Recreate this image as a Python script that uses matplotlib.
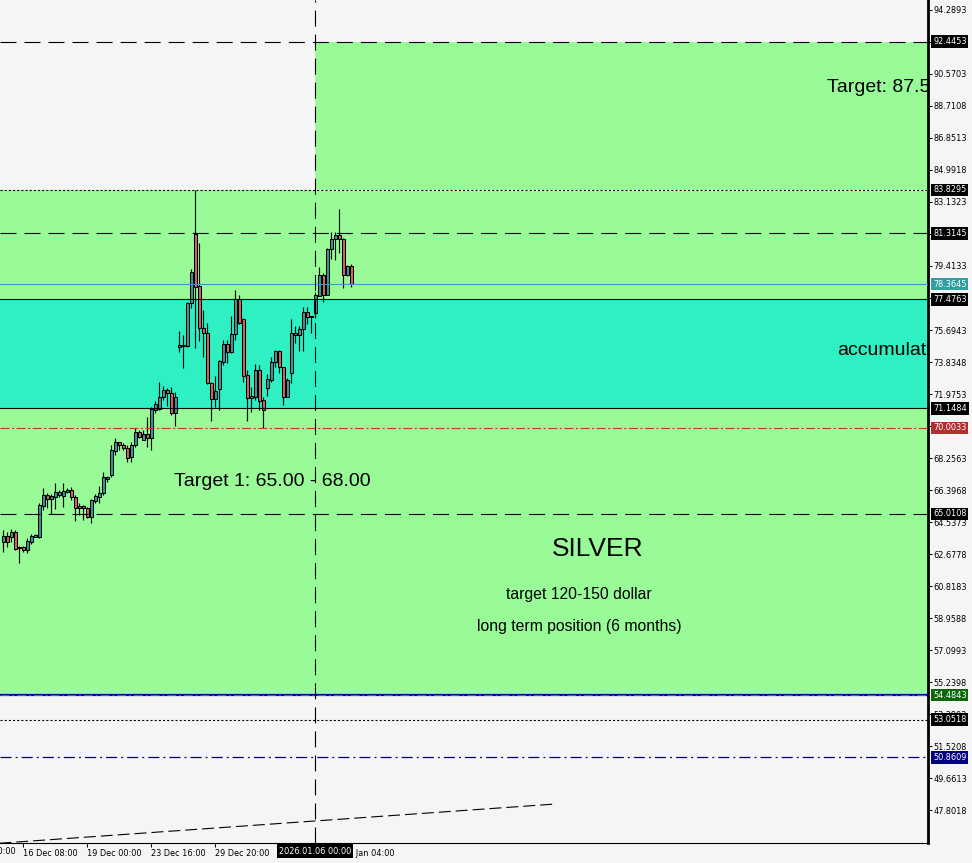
import matplotlib
matplotlib.use("Agg")
import matplotlib.pyplot as plt
from matplotlib.patches import Rectangle

# H4 candles, silver
opens = [63.38, 63.73, 63.67, 63.96, 63.01, 63.10, 62.91, 63.35, 63.69, 63.65,
         65.47, 66.09, 65.86, 66.01, 66.11, 66.05, 66.30, 66.40, 66.01, 65.33,
         65.47, 65.33, 64.81, 65.78, 66.01, 66.21, 67.04, 67.27, 68.68, 69.17,
         69.01, 68.82, 68.30, 69.01, 69.75, 69.33, 69.65, 69.40, 71.05, 71.09,
         71.78, 72.21, 72.02, 70.85, 74.69, 74.82, 74.78, 77.25, 81.27, 78.25,
         75.79, 75.50, 72.60, 71.67, 72.28, 73.85, 74.88, 74.43, 75.45, 77.50,
         76.33, 73.08, 71.73, 71.82, 73.37, 71.63, 72.30, 72.80, 73.85, 74.48,
         73.53, 71.82, 73.21, 75.50, 75.42, 75.74, 76.72, 76.49, 76.67, 77.69,
         78.89, 77.73, 80.38, 80.98, 81.21, 80.98, 78.89, 79.41]
highs = [64.07, 63.96, 64.13, 64.07, 63.16, 63.15, 63.61, 63.84, 63.84, 65.66,
         66.50, 66.21, 66.17, 66.82, 66.40, 66.79, 66.50, 66.59, 66.11, 65.62,
         65.53, 65.43, 65.87, 66.15, 66.63, 67.47, 67.21, 69.01, 69.44, 69.20,
         69.11, 69.01, 69.20, 69.98, 69.89, 69.89, 70.66, 71.23, 71.59, 72.69,
         72.46, 72.31, 72.40, 72.09, 75.64, 75.40, 77.34, 79.22, 83.83, 80.73,
         76.86, 76.10, 72.69, 73.02, 73.95, 75.11, 75.11, 76.51, 78.02, 77.73,
         76.41, 73.37, 72.37, 73.72, 73.66, 71.78, 73.14, 74.11, 74.53, 74.53,
         73.56, 72.88, 76.33, 75.93, 75.93, 77.01, 77.01, 76.53, 77.90, 79.34,
         79.02, 80.48, 81.37, 81.37, 82.73, 81.02, 79.47, 79.53]
lows = [62.80, 63.09, 63.38, 62.91, 62.16, 62.80, 62.76, 63.26, 63.65, 63.61,
        65.24, 65.33, 65.00, 65.28, 66.01, 65.43, 66.21, 65.82, 64.61, 64.94,
        64.65, 64.75, 64.46, 65.62, 65.62, 66.11, 66.88, 67.17, 68.43, 68.72,
        68.72, 68.04, 68.04, 68.91, 69.40, 69.29, 68.91, 68.72, 70.85, 71.05,
        71.63, 71.28, 70.76, 70.12, 74.43, 73.50, 74.72, 76.96, 74.63, 75.07,
        74.14, 72.56, 70.43, 71.24, 71.05, 73.66, 73.76, 74.34, 75.14, 76.05,
        72.69, 70.43, 70.95, 71.63, 71.05, 70.02, 71.86, 72.69, 73.56, 73.18,
        71.34, 71.78, 72.60, 74.92, 74.49, 74.49, 76.04, 75.54, 76.40, 77.69,
        77.34, 77.73, 79.80, 79.76, 80.15, 78.15, 78.83, 78.21]
closes = [63.73, 63.38, 63.96, 62.97, 63.10, 62.91, 63.45, 63.74, 63.80, 65.53,
          66.09, 65.86, 66.05, 66.26, 66.26, 66.36, 66.40, 66.01, 65.33, 65.47,
          65.33, 64.81, 65.82, 66.05, 66.21, 67.14, 67.14, 68.72, 69.17, 69.01,
          68.86, 68.24, 69.01, 69.75, 69.49, 69.65, 69.44, 71.10, 71.40, 71.78,
          72.21, 72.02, 70.85, 71.78, 74.82, 74.79, 77.25, 79.07, 78.21, 75.79,
          75.50, 72.60, 71.67, 72.15, 73.88, 74.88, 74.43, 75.46, 77.50, 76.12,
          73.04, 71.73, 71.86, 73.37, 71.59, 71.05, 72.83, 73.85, 74.48, 73.53,
          71.82, 72.79, 75.50, 75.42, 75.75, 76.72, 76.47, 76.47, 77.73, 78.89,
          77.73, 80.40, 80.98, 81.21, 80.96, 78.89, 79.41, 78.36]

time_idx = [-11, 5, 21, 37, 53, 69, 85]
time_labels = ["11 Dec 20:00", "16 Dec 08:00", "19 Dec 00:00", "23 Dec 16:00",
               "29 Dec 20:00", "02 Jan 12:00", "07 Jan 04:00"]
vline_idx = 78
vline_label = "2026.01.06 00:00"

price_ticks = [47.8018, 49.6613, 51.5208, 53.3803, 55.2398, 57.0993, 58.9588,
               60.8183, 62.6778, 64.5373, 66.3968, 68.2563, 70.1158, 71.9753,
               73.8348, 75.6943, 77.5538, 79.4133, 81.2728, 83.1323, 84.9918,
               86.8513, 88.7108, 90.5703, 92.4298, 94.2893]

green_zone = (54.4843, 83.8295)
target_zone = (83.8295, 92.4453)
accum_zone = (71.1484, 77.4763)
bid = 78.3645
trend_x = [-1, 138]
trend_y = [45.87, 48.15]

plt.rcParams['lines.scale_dashes'] = False
BG = '#f5f5f5'
GREEN = '#98fb98'
AQUA = '#2ff0c2'
BULL = '#2e9e9b'
BEAR = '#d9605a'
LONG = (0, (11.5, 5.8))

fig = plt.figure(figsize=(9.72, 8.63), dpi=100, facecolor=BG)
ax = fig.add_axes([0, 20 / 863, 928 / 972, 843 / 863])
ax.set_facecolor(BG)
x0, x1 = -0.83, 231.2
ax.set_xlim(x0, x1)
ax.set_ylim(45.885, 94.870)

# zones
ax.add_patch(Rectangle((x0, green_zone[0]), x1 - x0, green_zone[1] - green_zone[0],
                       fc=GREEN, ec='none', zorder=0))
ax.add_patch(Rectangle((vline_idx, target_zone[0]), x1 - vline_idx,
                       target_zone[1] - target_zone[0], fc=GREEN, ec='none', zorder=0))
ax.add_patch(Rectangle((x0, accum_zone[0]), x1 - x0, accum_zone[1] - accum_zone[0],
                       fc=AQUA, ec='none', zorder=1))

# candles
for i, (o, h, l, c) in enumerate(zip(opens, highs, lows, closes)):
    ax.vlines(i, l, h, color='black', lw=0.85, zorder=3)
    col = BULL if c >= o else BEAR
    ax.add_patch(Rectangle((i - 0.36, min(o, c)), 0.72, max(abs(c - o), 0.03),
                           fc=col, ec='black', lw=0.75, zorder=4))

# horizontal levels
ax.axhline(92.4453, color='black', lw=0.8, ls=LONG, zorder=5)
ax.hlines(83.8295, vline_idx, x1, color='white', lw=0.8, zorder=5)
ax.axhline(83.8295, color='black', lw=0.8, ls=(0, (1.5, 1.5)), zorder=5)
ax.axhline(81.3145, color='black', lw=0.8, ls=LONG, zorder=5)
ax.axhline(bid, color='#3a9fb0', lw=0.8, zorder=5)
ax.axhline(accum_zone[1], color='black', lw=0.8, zorder=5)
ax.axhline(accum_zone[0], color='black', lw=0.8, zorder=5)
ax.axhline(70.0033, color='#d42a2a', lw=0.8, ls=(0, (6.5, 1.8, 1.5, 1.8)), zorder=5)
ax.axhline(65.0108, color='black', lw=0.8, ls=LONG, zorder=5)
ax.axhline(54.4843, color='#000080', lw=1.6, zorder=5)
ax.axhline(54.4843, color='#1f9a1f', lw=0.7, ls=(0, (6.5, 2, 1.5, 2)), zorder=5)
ax.axhline(53.0518, color='black', lw=0.8, ls=(0, (1.5, 1.5)), zorder=5)
ax.axhline(50.8609, color='#000080', lw=0.9, ls=(0, (8, 2.9, 1.4, 2.9)), zorder=5)
ax.axvline(vline_idx, color='black', lw=0.8, ls=LONG, zorder=6)
ax.plot(trend_x, trend_y, color='black', lw=0.8, ls=(0, (8.6, 3.6)), zorder=5)

# texts
tf = ['Liberation Sans', 'DejaVu Sans']
ax.text(205.9, 89.81, "Target: 87.5", fontsize=14, family=tf, va='center', ha='left',
        clip_on=True, zorder=7)
ax.text(208.4, 74.48, "accumulation", fontsize=14, family=tf, va='center', ha='left',
        clip_on=True, zorder=7)
ax.text(67.2, 66.87, "Target 1: 65.00 - 68.00", fontsize=14, family=tf, va='center',
        ha='center', zorder=7)
ax.text(148.7, 62.97, "SILVER", fontsize=19, family=tf, va='center', ha='center', zorder=7)
ax.text(143.9, 60.30, "target 120-150 dollar", fontsize=11.3, family=tf, va='center',
        ha='center', zorder=7)
ax.text(143.9, 58.46, "long term position (6 months)", fontsize=11.3, family=tf,
        va='center', ha='center', zorder=7)

# axes styling
for s in ('top', 'left'):
    ax.spines[s].set_visible(False)
ax.spines['right'].set_linewidth(2)
ax.spines['bottom'].set_linewidth(0.8)
ax.yaxis.tick_right()
ax.set_yticks(price_ticks)
ax.set_yticklabels([f"{p:.4f}" for p in price_ticks])
ax.tick_params(axis='y', labelsize=5.9, length=2.6, width=0.7, pad=1.5)
ax.set_xticks(time_idx[1:])
ax.set_xticklabels(time_labels[1:], ha='left')
ax.tick_params(axis='x', labelsize=5.9, length=2.6, width=0.7, pad=2)
ax.text(time_idx[0] + 0.3, -0.0095, time_labels[0], transform=ax.get_xaxis_transform(),
        fontsize=5.9, ha='left', va='center', clip_on=False)

# price tags on the right scale
tags = [(92.4453, 'black'), (83.8295, 'black'), (81.3145, 'black'), (bid, '#2f9f9f'),
        (77.4763, 'black'), (71.1484, 'black'), (70.0033, '#b03030'),
        (65.0108, 'black'), (54.4843, '#0a6a0a'), (53.0518, 'black'), (50.8609, '#000080')]
for p, bg in tags:
    ax.text(1 + 5 / 928, p, f"{p:.4f}", transform=ax.get_yaxis_transform(), fontsize=5.9,
            color='white', ha='left', va='center', clip_on=False, zorder=10,
            bbox=dict(boxstyle='square,pad=0.22', fc=bg, ec='none'))

ax.text(vline_idx, -0.0095, vline_label, transform=ax.get_xaxis_transform(), fontsize=5.9,
        color='white', ha='center', va='center', clip_on=False, zorder=10,
        bbox=dict(boxstyle='square,pad=0.25', fc='black', ec='none'))

fig.savefig("out.png", dpi=100, facecolor=BG)
